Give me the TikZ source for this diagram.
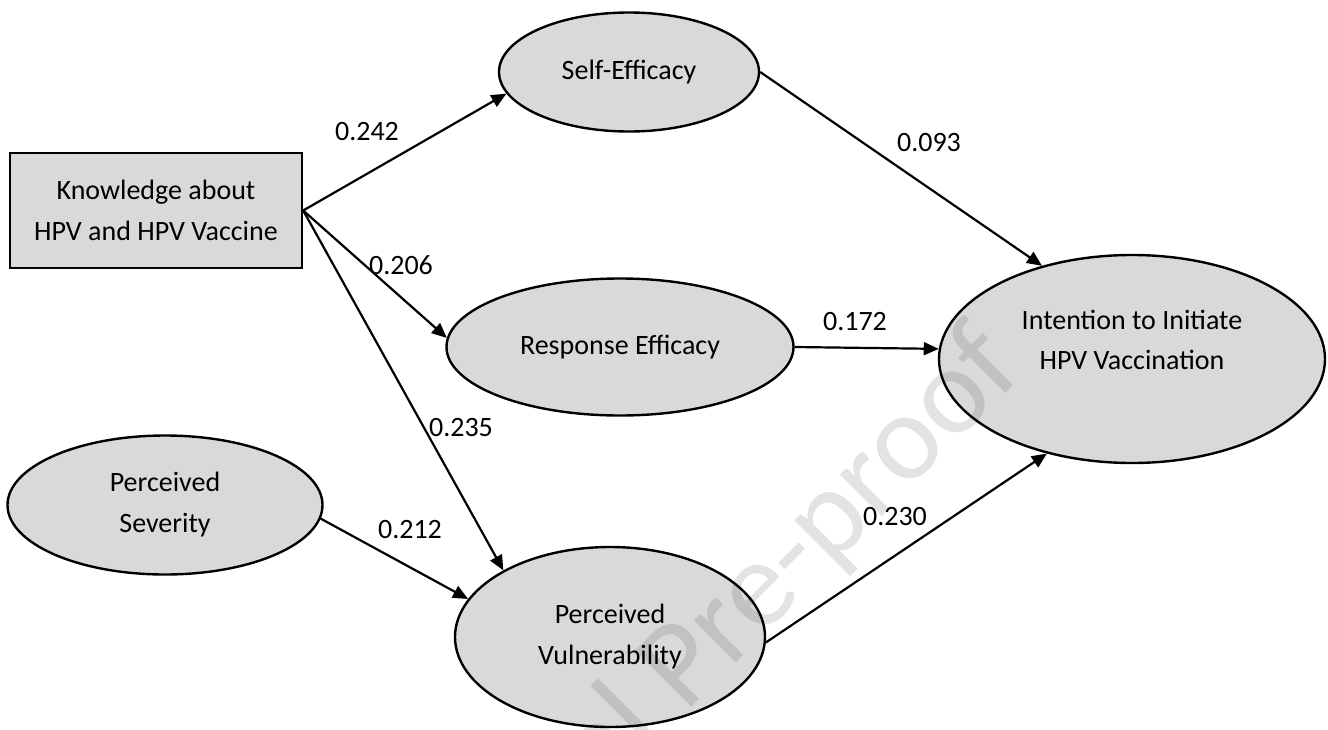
\documentclass[tikz,border=0pt]{standalone}
\usepackage{fontspec}
\setmainfont{Carlito}
\usepackage{tikz}
\usetikzlibrary{positioning}
\usetikzlibrary{shapes,arrows.meta}
\definecolor{boxgray}{HTML}{D9D9D9}

\begin{document}
\begin{tikzpicture}[x=0.5pt,y=-0.5pt,
    construct/.style={draw,line width=1.2pt,fill=boxgray,align=center,inner sep=0pt,
        font=\fontsize{14}{20.5}\selectfont},
    latent/.style={construct,ellipse},
    effect/.style={line width=1.1pt,-{Triangle[length=7.5pt,width=6.5pt]}},
    weight/.style={font=\fontsize{14}{17}\selectfont}]
    \useasboundingbox (0,0) rectangle (1328,729); % page frame

    % Constructs
    \node[construct,minimum width=146pt,minimum height=57.5pt] (know) at (156,210.5) {Knowledge about\\HPV and HPV Vaccine};
    \node[latent,minimum width=130pt,minimum height=59.5pt] (self) at (629,72) {Self-Efficacy};
    \node[latent,minimum width=173.5pt,minimum height=68.5pt] (resp) at (620,347) {Response Efficacy};
    \node[latent,minimum width=157.5pt,minimum height=69.5pt] (sev) at (165,505) {Perceived\\Severity};
    \node[latent,minimum width=155pt,minimum height=90pt] (vul) at (610,637) {Perceived\\Vulnerability};
    \node[latent,minimum width=193pt,minimum height=104pt,
        label={[align=center,yshift=9.5pt,font=\fontsize{14}{20}\selectfont]center:Intention to Initiate\\HPV Vaccination}] (int) at (1132,359) {};

    % Paths
    \draw[effect] (know.east) -- (self.190);
    \draw[effect] (know.east) -- (resp.177);
    \draw[effect] (know.east) -- (vul.148);
    \draw[effect] (sev.355) -- (vul.165);
    \draw[effect] (self.east) -- (int.134);
    \draw[effect] (resp.east) -- (int.177);
    \draw[effect] (vul.358) -- (int.228);

    % Path coefficients
    \node[weight] (w1) at (367,132) {0.242};
    \node[weight] (w2) at (401,265) {0.206};
    \node[weight] (w3) at (461,428) {0.235};
    \node[weight] (w4) at (410,530) {0.212};
    \node[weight] (w5) at (929,143) {0.093};
    \node[weight] (w6) at (855,322) {0.172};
    \node[weight] (w7) at (895,517) {0.230};

    % Watermark
    \begin{scope}
        \clip (0,0) rectangle (1328,729);
        \node[rotate=45,anchor=east,inner sep=0pt,opacity=0.11,font=\fontsize{62}{62}\selectfont] (mark) at (1002,350) {Journal Pre-proof};
    \end{scope}
\end{tikzpicture}
\end{document}
